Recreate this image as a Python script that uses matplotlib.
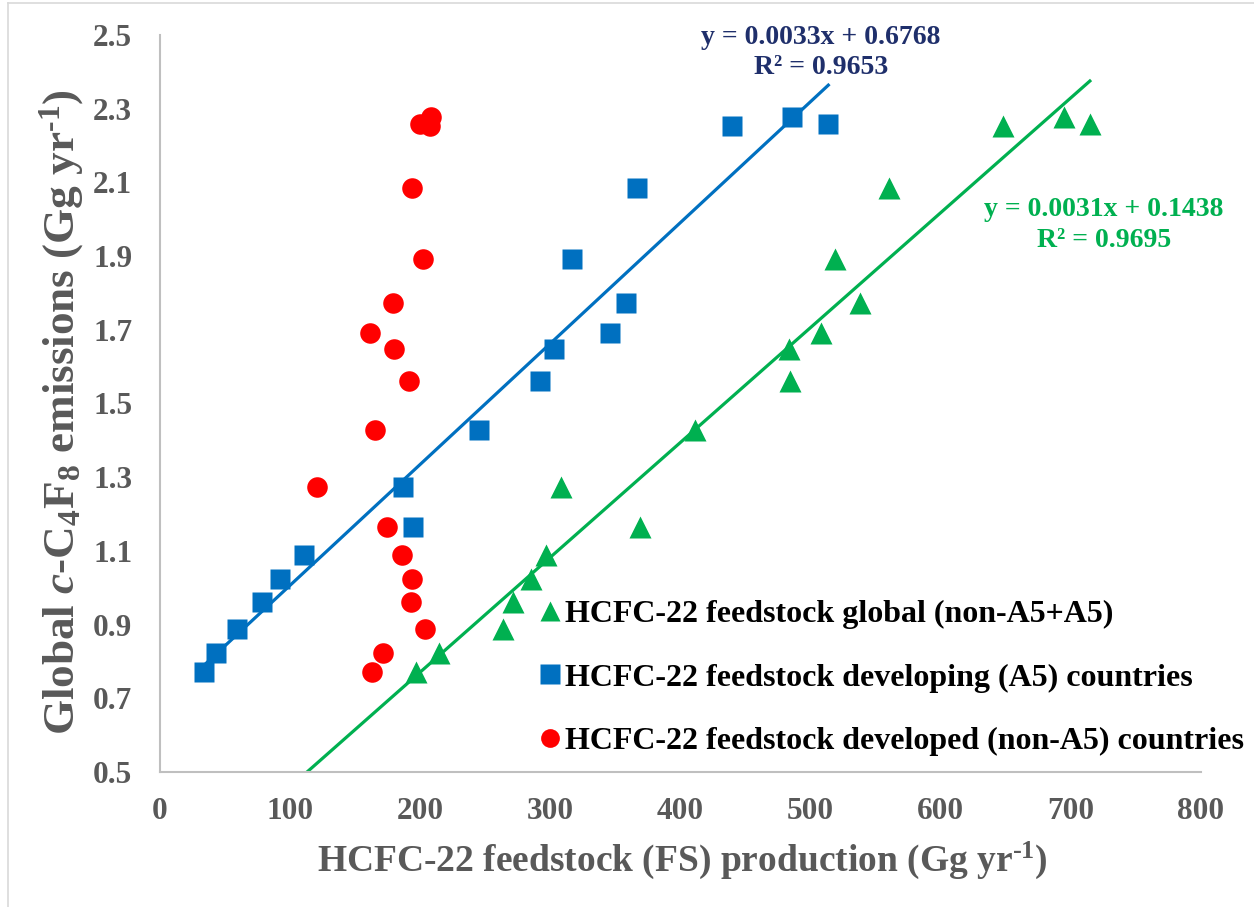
import numpy as np
import matplotlib
matplotlib.use("Agg")
import matplotlib.pyplot as plt
from matplotlib.lines import Line2D

plt.rcParams['font.family'] = ['Liberation Serif', 'DejaVu Serif']
plt.rcParams['mathtext.fontset'] = 'custom'
plt.rcParams['mathtext.rm'] = 'Liberation Serif:bold'
plt.rcParams['mathtext.it'] = 'Liberation Serif:bold:italic'
plt.rcParams['mathtext.bf'] = 'Liberation Serif:bold'

# Global c-C4F8 emissions (shared y values for all series)
emissions = [0.772, 0.824, 0.888, 0.960, 1.025, 1.090, 1.166, 1.274, 1.428,
             1.561, 1.647, 1.692, 1.772, 1.892, 2.084, 2.253, 2.277, 2.258]
# HCFC-22 feedstock production (Gg/yr)
fs_global = [196.7, 214.6, 263.3, 271.6, 285.4, 297.0, 369.0, 307.9, 410.8,
             483.9, 483.5, 507.8, 537.7, 519.0, 560.2, 647.5, 694.6, 714.6]
fs_a5 = [33.9, 42.8, 59.5, 78.2, 92.1, 110.3, 194.4, 186.4, 245.2,
         292.1, 302.5, 346.0, 358.2, 316.7, 366.7, 439.8, 485.6, 513.6]
fs_nona5 = [163.1, 171.3, 203.3, 193.1, 193.4, 186.2, 174.1, 121.0, 165.4,
            191.0, 180.0, 161.6, 179.2, 201.8, 193.7, 207.5, 208.2, 200.0]

labels = ["HCFC-22 feedstock global (non-A5+A5)",
          "HCFC-22 feedstock developing (A5) countries",
          "HCFC-22 feedstock developed (non-A5) countries"]
eq_blue = ["y = 0.0033x + 0.6768", "R² = 0.9653"]
eq_green = ["y = 0.0031x + 0.1438", "R² = 0.9695"]

x_ticks = [0, 100, 200, 300, 400, 500, 600, 700, 800]
y_ticks = [0.5, 0.7, 0.9, 1.1, 1.3, 1.5, 1.7, 1.9, 2.1, 2.3, 2.5]

GREEN = '#00B050'
BLUE = '#0070C0'
RED = '#FF0000'
GRAY = '#595959'
NAVY = '#1F2F6B'

W, H = 1254, 907
fig = plt.figure(figsize=(W / 100, H / 100), dpi=100)
ax = fig.add_axes([160 / W, 1 - 772 / H, (1201 - 160) / W, (772 - 35) / H])

y = np.array(emissions)
xg = np.array(fs_global)
xb = np.array(fs_a5)
xr = np.array(fs_nona5)

# trendlines (least squares)
pb = np.polyfit(xb, y, 1)
pg = np.polyfit(xg, y, 1)
xx_b = np.array([xb.min(), xb.max()])
xx_g = np.array([0, xg.max()])
ax.plot(xx_b, np.polyval(pb, xx_b), color=BLUE, lw=2.3, zorder=2)
ax.plot(xx_g, np.polyval(pg, xx_g), color=GREEN, lw=2.3, zorder=2)

ax.plot(xg, y, linestyle='none', marker='^', ms=15.5, color=GREEN, mec='none', zorder=3)
ax.plot(xb, y, linestyle='none', marker='s', ms=14.6, color=BLUE, mec='none', zorder=3)
ax.plot(xr, y, linestyle='none', marker='o', ms=14.8, color=RED, mec='none', zorder=3)

ax.set_xlim(0, 800)
ax.set_ylim(0.5, 2.5)
ax.set_xticks(x_ticks)
ax.set_xticklabels([str(v) for v in x_ticks])
ax.set_yticks(y_ticks)
ax.set_yticklabels([f"{v:.1f}" for v in y_ticks])
ax.tick_params(axis='both', length=0, labelsize=22.5, labelcolor=GRAY)
ax.tick_params(axis='y', pad=20)
ax.tick_params(axis='x', pad=18)
for lab in ax.get_xticklabels() + ax.get_yticklabels():
    lab.set_fontweight('bold')

for s in ['top', 'right']:
    ax.spines[s].set_visible(False)
for s in ['left', 'bottom']:
    ax.spines[s].set_color('#BFBFBF')
    ax.spines[s].set_linewidth(1.5)

fig.text(682 / W, 1 - 860 / H,
         r"HCFC-22 feedstock (FS) production (Gg yr$^{\text{-1}}$)",
         ha='center', va='center', fontsize=27, fontweight='bold', color=GRAY)
fig.text(62 / W, 1 - 412 / H,
         r"Global $\mathit{c}$-C$_{\mathbf{4}}$F$_{\mathbf{8}}$ emissions (Gg yr$^{\text{-1}}$)",
         ha='center', va='center', rotation=90, fontsize=32.5, fontweight='bold', color=GRAY)

# regression equations
fig.text(821 / W, 1 - 37 / H, eq_blue[0], ha='center', va='center',
         fontsize=20, fontweight='bold', color=NAVY)
fig.text(821 / W, 1 - 67 / H, eq_blue[1], ha='center', va='center',
         fontsize=20, fontweight='bold', color=NAVY)
fig.text(1104 / W, 1 - 210 / H, eq_green[0], ha='center', va='center',
         fontsize=20, fontweight='bold', color=GREEN)
fig.text(1104 / W, 1 - 240 / H, eq_green[1], ha='center', va='center',
         fontsize=20, fontweight='bold', color=GREEN)

handles = [Line2D([], [], linestyle='none', marker='^', ms=14, color=GREEN, mec='none'),
           Line2D([], [], linestyle='none', marker='s', ms=14, color=BLUE, mec='none'),
           Line2D([], [], linestyle='none', marker='o', ms=13.5, color=RED, mec='none')]
leg = fig.legend(handles, labels, loc='upper left', bbox_to_anchor=(540 / W, 1 - 600 / H),
                 frameon=False, prop={'family': 'Liberation Serif', 'weight': 'bold', 'size': 23},
                 handlelength=0.6, handletextpad=0.18, labelspacing=1.06, borderpad=0,
                 borderaxespad=0)

# chart border
fig.add_artist(Line2D([8 / W, 8 / W], [0, 1 - 3 / H], color='#D9D9D9', lw=1.2))
fig.add_artist(Line2D([8 / W, 1], [1 - 3 / H, 1 - 3 / H], color='#D9D9D9', lw=1.2))

fig.savefig("out.png", dpi=100)
